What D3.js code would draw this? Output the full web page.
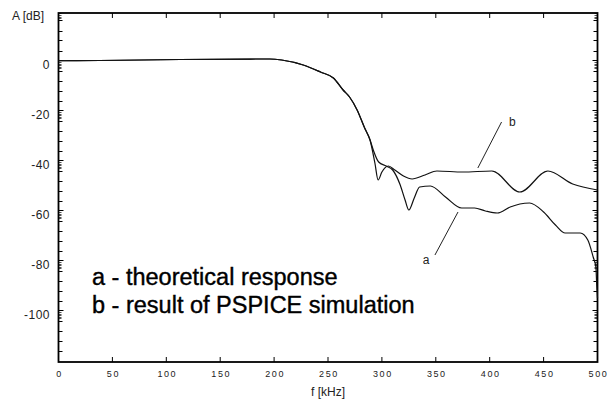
<!DOCTYPE html>
<html>
<head>
<meta charset="utf-8" />
<script src="https://d3js.org/d3.v7.min.js"></script>
<style>
  body { margin: 0; background: #fff; }
  svg { display: block; font-family: "Liberation Sans", Arial, sans-serif; }
</style>
</head>
<body>
<div id="chart"></div>
<script>
// frequency ticks (kHz) and gain ticks (dB)
var xTicks = [0, 50, 100, 150, 200, 250, 300, 350, 400, 450, 500];
var yTicks = [0, -20, -40, -60, -80, -100];

// a - theoretical response
var aFreq = [0, 38, 113, 196, 207, 227, 243, 255, 264, 270, 277, 284, 289, 292, 297, 304, 310, 317, 321.5, 325, 330, 335, 345, 359, 374, 386, 396, 407, 419, 428, 437, 450, 461, 470, 484, 491, 496, 498.5, 499.3, 500];
var aGain = [-0.1, 0, 0.4, 0.6, 0.2, -1.8, -4.6, -7, -11.8, -14.6, -19.8, -27, -31.8, -35.8, -40.6, -42.2, -43.8, -49.8, -55.8, -59.8, -55, -50.6, -50.2, -54.6, -59, -59, -60.2, -61, -58.6, -57.4, -57, -60.6, -65.8, -69, -69, -71.8, -78.6, -82.6, -90, -95];

// b - result of PSPICE simulation
var bFreq = [0, 38, 113, 196, 207, 227, 243, 255, 264, 270, 277, 284, 289, 293.5, 296.5, 300, 306, 312, 320, 328, 340, 351, 375, 402, 428, 454, 477, 500];
var bGain = [-0.1, 0, 0.4, 0.6, 0.2, -1.8, -4.6, -7, -11.8, -14.6, -19.8, -27, -31.8, -41, -47.8, -44.6, -42.2, -43.8, -46.2, -47.4, -45.8, -44.2, -44.6, -44.2, -52.6, -44.2, -49.4, -51.8];

var legendLines = ["a - theoretical response", "b - result of PSPICE simulation"];

var width = 614, height = 401;

var x = d3.scaleLinear().domain([0, 500]).range([58.5, 597.5]);
var y = d3.scaleLinear().domain([-120.6, 19]).range([362, 13]);

var svg = d3.select("#chart").append("svg")
  .attr("width", width).attr("height", height);

// minor ticks on y: every 4 dB, plus a dense cluster under each major
var yMinor = [], yCluster = [];
for (var v = 20; v > -121; v -= 20) {
  for (var k = 4; k < 20; k += 4) yMinor.push(v - k);
  for (var c = 0.6; c < 3.2; c += 0.6) yCluster.push(v - c);
}
yMinor = yMinor.filter(d => d < 19 && d > -120.6);
yCluster = yCluster.filter(d => d < 19 && d > -120.6);

var ticksG = svg.append("g").attr("stroke", "#000").attr("stroke-width", 1);

// left & right ticks
[[x(0), 1], [x(500), -1]].forEach(function (side) {
  var x0 = side[0], dir = side[1];
  ticksG.selectAll(null).data(yTicks).join("line")
    .attr("x1", x0).attr("x2", x0 + dir * 5)
    .attr("y1", d => y(d)).attr("y2", d => y(d));
  ticksG.selectAll(null).data(yMinor).join("line")
    .attr("x1", x0).attr("x2", x0 + dir * 4)
    .attr("y1", d => Math.round(y(d)) + 0.5).attr("y2", d => Math.round(y(d)) + 0.5);
  ticksG.selectAll(null).data(yCluster).join("line")
    .attr("stroke", "#555")
    .attr("x1", x0).attr("x2", x0 + dir * 3)
    .attr("y1", d => Math.round(y(d)) + 0.5).attr("y2", d => Math.round(y(d)) + 0.5);
});

// top & bottom ticks
[[y(-120.6), -1], [y(19), 1]].forEach(function (side) {
  var y0 = side[0], dir = side[1];
  ticksG.selectAll(null).data(xTicks).join("line")
    .attr("x1", d => x(d)).attr("x2", d => x(d))
    .attr("y1", y0).attr("y2", y0 + dir * 5);
});

// frame
svg.append("rect")
  .attr("x", x(0)).attr("y", y(19))
  .attr("width", x(500) - x(0)).attr("height", y(-120.6) - y(19))
  .attr("fill", "none").attr("stroke", "#000").attr("stroke-width", 1.8);

// tick labels
svg.append("g").selectAll("text").data(xTicks).join("text")
  .attr("x", d => x(d) + 1).attr("y", 377)
  .attr("text-anchor", "middle")
  .attr("font-size", 9).attr("letter-spacing", 1.6)
  .attr("fill", "#222")
  .text(d => d);

svg.append("g").selectAll("text").data(yTicks).join("text")
  .attr("x", 50).attr("y", d => y(d) + 8)
  .attr("text-anchor", "end")
  .attr("font-size", 12).attr("letter-spacing", 0.5)
  .attr("fill", "#222")
  .text(d => d);

svg.append("text").attr("x", 12).attr("y", 20)
  .attr("font-size", 12).attr("fill", "#222").text("A [dB]");
svg.append("text").attr("x", 328).attr("y", 396).attr("text-anchor", "middle")
  .attr("font-size", 12).attr("fill", "#222").text("f [kHz]");

// curves
var line = d3.line().x(d => x(d[0])).y(d => y(d[1])).curve(d3.curveMonotoneX);

svg.append("path")
  .datum(d3.zip(aFreq, aGain))
  .attr("fill", "none").attr("stroke", "#111").attr("stroke-width", 1.2)
  .attr("d", line);

svg.append("path")
  .datum(d3.zip(bFreq, bGain))
  .attr("fill", "none").attr("stroke", "#111").attr("stroke-width", 1.2)
  .attr("d", line);

// annotation leaders
svg.append("line")
  .attr("x1", x(389)).attr("y1", y(-43)).attr("x2", x(411)).attr("y2", y(-24.6))
  .attr("stroke", "#222").attr("stroke-width", 1);
svg.append("text").attr("x", x(418)).attr("y", y(-26))
  .attr("font-size", 12).attr("fill", "#222").text("b");

svg.append("line")
  .attr("x1", x(370.6)).attr("y1", y(-60.6)).attr("x2", x(349.2)).attr("y2", y(-77.8))
  .attr("stroke", "#222").attr("stroke-width", 1);
svg.append("text").attr("x", x(338)).attr("y", y(-81.5))
  .attr("font-size", 12).attr("fill", "#222").text("a");

// legend text
svg.append("g").selectAll("text").data(legendLines).join("text")
  .attr("x", 92).attr("y", (d, i) => 285 + i * 28)
  .attr("font-size", 23.5).attr("fill", "#000")
  .attr("stroke", "#000").attr("stroke-width", 0.4)
  .text(d => d);
</script>
</body>
</html>
